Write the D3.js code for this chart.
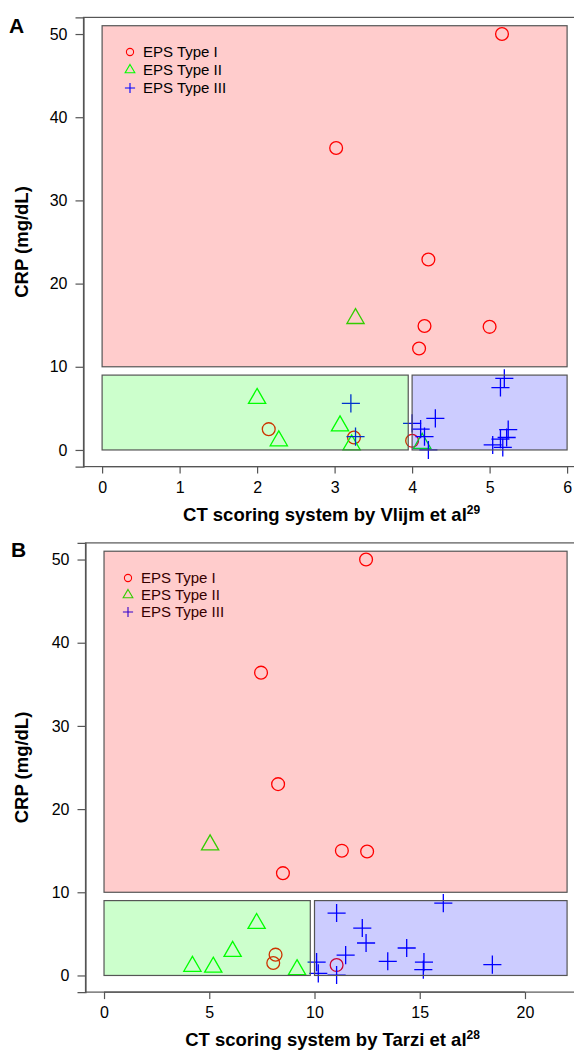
<!DOCTYPE html>
<meta charset="UTF-8">
<style>
  body { margin: 0; background: #fff; }
  svg { display: block; font-family: "Liberation Sans", Arial, sans-serif; }
</style>
<svg width="574" height="1053"></svg>
<script src="https://d3js.org/d3.v7.min.js"></script>
<script>
  // panel A: Vlijm score vs CRP
  const typeI_A = [[5.16, 50], [3.02, 36.3], [4.21, 22.9], [4.16, 14.9], [5.0, 14.8], [4.09, 12.2],
                   [2.15, 2.5], [3.25, 1.5], [4.0, 1.1]];
  const typeII_A = [[3.27, 15.8], [2.0, 6.2], [2.28, 1.1], [3.07, 2.9], [3.22, 0.6], [4.13, 0.8]];
  const typeIII_A = [[3.21, 5.6], [3.27, 1.6], [4.0, 3.2], [4.3, 3.8], [4.11, 2.5], [4.16, 1.6],
                     [4.21, 0.0], [5.19, 8.6], [5.14, 7.5], [5.24, 2.45], [5.22, 1.5], [5.14, 1.3],
                     [5.04, 0.6], [5.17, 0.3]];
  const xTicks_A = [0, 1, 2, 3, 4, 5, 6];
  // zones [x0, x1, y0, y1]
  const zones_A = [[0, 6, 10, 51], [0, 3.95, 0, 9], [4, 6, 0, 9]];

  // panel B: Tarzi score vs CRP
  const typeI_B = [[12.45, 50], [7.46, 36.4], [8.27, 23.0], [11.3, 15.0], [12.5, 14.9], [8.5, 12.3],
                   [8.15, 2.5], [8.04, 1.5], [11.05, 1.25]];
  const typeII_B = [[5.04, 15.7], [7.25, 6.25], [6.11, 2.9], [4.2, 1.1], [5.19, 1.0], [9.17, 0.7]];
  const typeIII_B = [[10.1, 1.6], [10.18, 0.25], [11.05, 7.5], [12.27, 5.7], [12.45, 3.9], [16.12, 8.7],
                     [14.38, 3.3], [11.48, 2.45], [11.05, 0.05], [13.48, 1.7], [15.2, 1.6], [15.17, 0.7],
                     [18.45, 1.3]];
  const xTicks_B = [0, 5, 10, 15, 20];
  const zones_B = [[0, 22, 10, 51], [0, 9.8, 0, 9], [10, 22, 0, 9]];

  const yTicks = [0, 10, 20, 30, 40, 50];
  const legendLabels = ['EPS Type I', 'EPS Type II', 'EPS Type III'];
  const typeColors = ['#ff0000', '#00ff00', '#0000ff'];
  const zoneFills = ['rgba(255,0,0,0.2)', 'rgba(0,255,0,0.2)', 'rgba(0,0,255,0.2)'];

  const svg = d3.select('svg');

  // R-style pch symbols (1 circle, 2 triangle, 3 plus), s = symbol radius
  const symbolPath = (type, s) => {
    if (type === 0) {
      return `M${s},0A${s},${s} 0 1,1 ${-s},0A${s},${s} 0 1,1 ${s},0Z`;
    } else if (type === 1) {
      const r = 1.555 * s, xc = 1.347 * s, yc = 0.778 * s;
      return `M0,${-r}L${xc},${yc}L${-xc},${yc}Z`;
    }
    const a = 1.414 * s;
    return `M${-a},0H${a}M0,${-a}V${a}`;
  };

  const drawPanel = (opt) => {
    const g = svg.append('g');
    const x = d3.scaleLinear().domain(opt.xDomain).range(opt.xRange);
    const y = d3.scaleLinear().domain([-2, 52]).range(opt.yRange);
    const [left, right] = opt.xRange;
    const [bottom, top] = opt.yRange;

    const drawLegend = () => {
      const lg = g.append('g');
      legendLabels.forEach((label, i) => {
        const ly = opt.legend.y + i * opt.legend.step;
        lg.append('path')
          .attr('d', symbolPath(i, 3.6))
          .attr('transform', `translate(${opt.legend.x},${ly})`)
          .attr('fill', 'none')
          .attr('stroke', typeColors[i])
          .attr('stroke-width', 1.1);
        lg.append('text')
          .attr('x', opt.legend.x + 13)
          .attr('y', ly)
          .attr('dy', '0.36em')
          .attr('font-size', 15)
          .text(label);
      });
    };

    if (!opt.legendOnTop) drawLegend();

    // points first, the translucent zones are laid over them
    opt.series.forEach((data, i) => {
      g.append('g').selectAll('path')
        .data(data)
        .join('path')
          .attr('d', symbolPath(i, 6.4))
          .attr('transform', d => `translate(${x(d[0])},${y(d[1])})`)
          .attr('fill', 'none')
          .attr('stroke', typeColors[i])
          .attr('stroke-width', 1.3);
    });

    g.append('g').selectAll('rect')
      .data(opt.zones)
      .join('rect')
        .attr('x', d => x(d[0]))
        .attr('y', d => y(d[3]))
        .attr('width', d => x(d[1]) - x(d[0]))
        .attr('height', d => y(d[2]) - y(d[3]))
        .attr('fill', (_, i) => zoneFills[i])
        .attr('stroke', '#555')
        .attr('stroke-width', 1.2);

    if (opt.legendOnTop) drawLegend();

    // plot box
    g.append('rect')
      .attr('x', left).attr('y', top)
      .attr('width', right - left).attr('height', bottom - top)
      .attr('fill', 'none')
      .attr('stroke', '#555')
      .attr('stroke-width', 1.2);

    const xAxis = d3.axisBottom(x).tickValues(opt.xTicks).tickSize(7).tickPadding(8).tickFormat(d3.format('d'));
    g.append('g')
      .attr('transform', `translate(0,${bottom})`)
      .call(xAxis)
      .call(a => a.select('.domain').attr('d', `M${x(opt.xTicks[0])},0H${x(opt.xTicks[opt.xTicks.length - 1])}`));

    const yAxis = d3.axisLeft(y).tickValues(yTicks).tickSize(8).tickPadding(8);
    g.append('g')
      .attr('transform', `translate(${left},0)`)
      .call(yAxis);

    g.selectAll('.tick text').attr('font-size', 16).attr('fill', '#000');
    g.selectAll('.tick line, .domain').attr('stroke', '#555').attr('stroke-width', 1.2);
    g.selectAll('.tick').attr('font-family', null);
    g.selectAll('g').attr('font-family', null).attr('font-size', null);

    // y title
    g.append('text')
      .attr('transform', `translate(28,${(top + bottom) / 2}) rotate(-90)`)
      .attr('text-anchor', 'middle')
      .attr('font-size', 18.5)
      .attr('font-weight', 'bold')
      .text('CRP (mg/dL)');

    // x title with superscript reference
    const xt = g.append('text')
      .attr('x', (left + right) / 2 - 3)
      .attr('y', bottom + 54)
      .attr('text-anchor', 'middle')
      .attr('font-size', 18.5)
      .attr('font-weight', 'bold');
    xt.append('tspan').text(opt.xTitle);
    xt.append('tspan').attr('font-size', 12).attr('dy', -7).text(opt.xRef);

    g.append('text')
      .attr('x', opt.tag.x)
      .attr('y', opt.tag.y)
      .attr('font-size', 21)
      .attr('font-weight', 'bold')
      .text(opt.tag.label);
  };

  drawPanel({
    xDomain: [-0.24, 6.24], xRange: [83.5, 585.7], yRange: [466.6, 17.4],
    series: [typeI_A, typeII_A, typeIII_A], zones: zones_A, xTicks: xTicks_A,
    legend: {x: 130, y: 52, step: 18}, legendOnTop: true,
    xTitle: 'CT scoring system by Vlijm et al', xRef: '29',
    tag: {label: 'A', x: 9, y: 33}
  });

  drawPanel({
    xDomain: [-0.88, 22.88], xRange: [85.5, 585.6], yRange: [992.1, 542.9],
    series: [typeI_B, typeII_B, typeIII_B], zones: zones_B, xTicks: xTicks_B,
    legend: {x: 128, y: 578, step: 17}, legendOnTop: false,
    xTitle: 'CT scoring system by Tarzi et al', xRef: '28',
    tag: {label: 'B', x: 11, y: 557}
  });
</script>
